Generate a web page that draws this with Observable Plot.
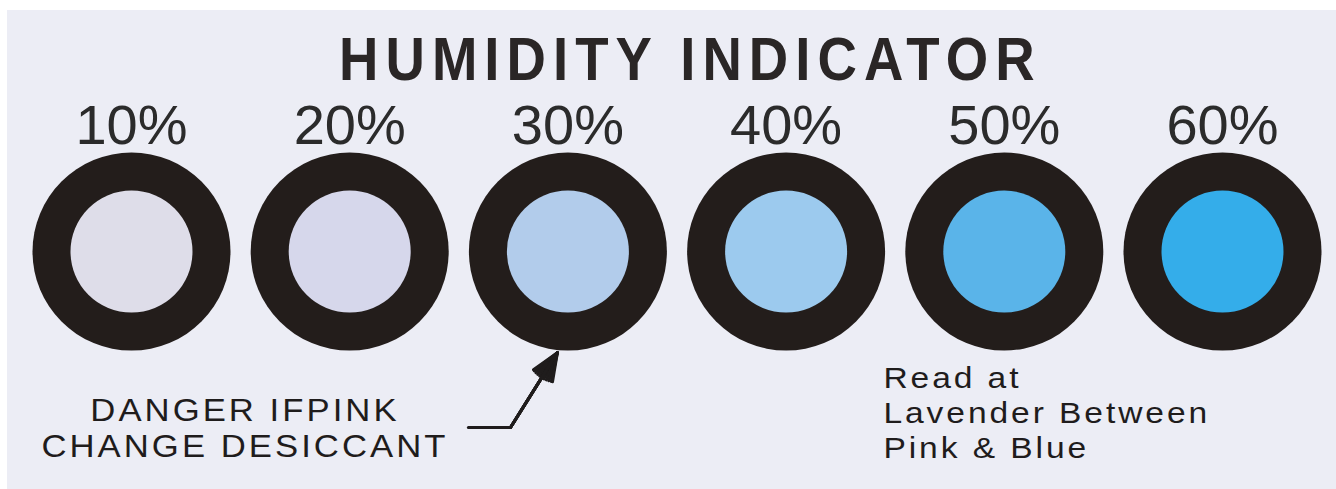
<!DOCTYPE html>
<html>
<head>
<meta charset="utf-8">
<script src="https://cdn.jsdelivr.net/npm/d3@7"></script>
<script src="https://cdn.jsdelivr.net/npm/@observablehq/plot@0.6"></script>
<style>
  html, body { margin: 0; padding: 0; background: #ffffff; }
  body { width: 1336px; height: 489px; overflow: hidden; position: relative; font-family: "Liberation Sans", Arial, sans-serif; }
  #card { position: absolute; left: 7px; top: 10px; width: 1329px; height: 479px; background: #ecedf5; }
  #title {
    position: absolute; left: 332px; top: 18px; margin: 0;
    font: bold 62px/62px "Liberation Sans", Arial, sans-serif;
    letter-spacing: 8px; white-space: nowrap; color: #2a2626;
    transform: scaleX(0.88); transform-origin: 0 0;
  }
  #chart { position: absolute; left: 0; top: 82px; }
</style>
</head>
<body>
<div id="card">
  <h1 id="title">HUMIDITY INDICATOR</h1>
  <div id="chart"></div>
</div>
<script>
// Indicator spots: humidity level, printed label and spot colour
const levels = [10, 20, 30, 40, 50, 60];
const levelLabels = ["10%", "20%", "30%", "40%", "50%", "60%"];
const spotColors = ["#dedde9", "#d6d7eb", "#b2cceb", "#9ccaee", "#5ab4e9", "#34adea"];

// Printed notes
const warningLines = ["DANGER IFPINK", "CHANGE DESICCANT"];
const readingLines = ["Read at", "Lavender Between", "Pink & Blue"];

const indicators = levels.map((level, i) => ({level, label: levelLabels[i], spot: spotColors[i]}));

const ink = "#1f1c1c";
const arrowMarks = [10, 20, 30, 40, 45].map(a =>
  Plot.arrow([warningLines], {x1: 27.37, y1: -1.776, x2: 29.52, y2: -1.02, stroke: ink, strokeWidth: 3, headLength: 24, headAngle: a})
);

const chart = Plot.plot({
  width: 1329,
  height: 397,
  marginTop: 60,
  marginBottom: 20,
  marginLeft: 124,
  marginRight: 114,
  x: {domain: [10, 60], axis: null},
  y: {domain: [-2.2, 1], axis: null},
  color: {type: "identity"},
  style: {background: "transparent", overflow: "visible", fontFamily: "'Liberation Sans', Arial, sans-serif", color: "#2a2a2a"},
  marks: [
    Plot.dot(indicators, {x: "level", y: 0, r: 99, fill: "#231d1b", stroke: "none"}),
    Plot.dot(indicators, {x: "level", y: 0, r: 61, fill: "spot", stroke: "none"}),
    Plot.text(indicators, {x: "level", y: 1, text: "label", lineAnchor: "bottom", dy: -9, fontSize: 56, fill: "#2b2b2b"}),
    Plot.text([warningLines.join("\n")], {ariaLabel: "warning", x: 15.2, y: -2.069, text: d => d, lineAnchor: "bottom", lineHeight: 1.16, fontSize: 31, fill: ink, textAnchor: "middle"}),
    Plot.line([[25.44, -1.776], [27.37, -1.776]], {x: d => d[0], y: d => d[1], stroke: ink, strokeWidth: 3}),
    ...arrowMarks,
    Plot.text([readingLines.join("\n")], {ariaLabel: "reading", x: 44.46, y: -2.079, text: d => d, lineAnchor: "bottom", lineHeight: 1.16, fontSize: 30, fill: ink, textAnchor: "start"})
  ]
});
// widen the printed notes (wider letters and tracking), as on the card
d3.select(chart).selectAll("text").each(function() {
  const t = this.textContent || "";
  if (t.includes(warningLines[0]) || t.includes(readingLines[0])) {
    this.setAttribute("letter-spacing", t.includes(warningLines[0]) ? "2.7" : "2.6");
    const tr = this.getAttribute("transform") || "";
    this.setAttribute("transform", tr + " scale(1.12,1)");
  }
});
document.getElementById("chart").appendChild(chart);
</script>
</body>
</html>
